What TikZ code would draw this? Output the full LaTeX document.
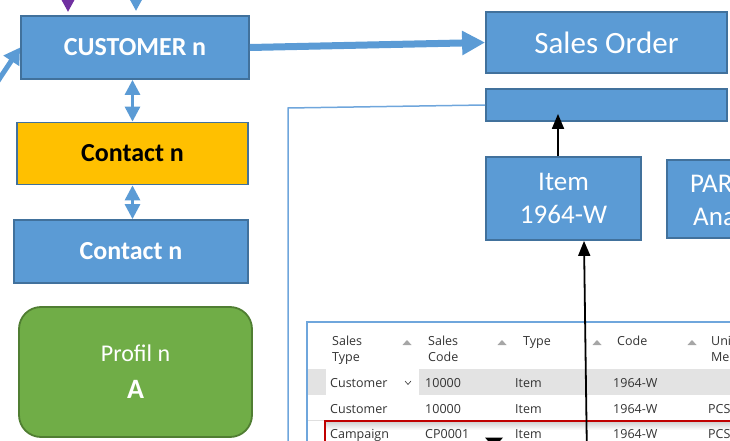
\documentclass[tikz,border=0pt]{standalone}
\usepackage{fontspec}
\setmainfont{Carlito}
\newfontfamily\tabfont{Open Sans}
\usetikzlibrary{arrows.meta}
\definecolor{boxblue}{HTML}{5B9BD5}
\definecolor{boxedge}{HTML}{41719C}
\definecolor{orangefill}{HTML}{FFC000}
\definecolor{greenfill}{HTML}{70AD47}
\definecolor{greenedge}{HTML}{507E32}
\definecolor{purplearr}{HTML}{7030A0}
\definecolor{redsel}{HTML}{C00000}
\definecolor{tabtext}{HTML}{333333}
\definecolor{rowgray}{HTML}{E3E3E3}
\definecolor{sortgray}{HTML}{A6A6A6}
\definecolor{framelight}{HTML}{6FA6DC}
\begin{document}
\begin{tikzpicture}[x=1pt,y=-1pt,
  bluebox/.style={draw=boxedge, fill=boxblue, line width=1.8pt, inner sep=0pt, text=white},
  bigbold/.style={font=\fontsize{26}{31}\selectfont\bfseries},
  bigreg/.style={font=\fontsize{31}{37}\selectfont},
  midreg/.style={font=\fontsize{27}{33}\selectfont},
  dbl/.style={boxblue, line width=3pt, {Triangle[width=15pt,length=15pt]}-{Triangle[width=15pt,length=15pt]}},
  blackarr/.style={black, line width=1.8pt, -{Triangle[width=12pt,length=15pt]}},
  tabtxt/.style={anchor=base west, inner sep=0pt, text=tabtext, font=\tabfont\fontsize{12.5}{15}\selectfont},
  sorttri/.style={fill=sortgray, draw=none}
]
\useasboundingbox (0,0) rectangle (730,441);
\clip (0,0) rectangle (730,441);

% boxes
\node[bluebox, bigbold, minimum width=228pt, minimum height=63pt] (cust) at (135,47.5) {CUSTOMER n};
\node[bluebox, bigreg, minimum width=241pt, minimum height=61pt] (so) at (606.5,42.5) {Sales Order};
\node[bluebox, minimum width=241pt, minimum height=32pt] (sob) at (606.5,105) {};
\node[bluebox, midreg, minimum width=155pt, minimum height=83pt, align=center] (item) at (563.5,198.5) {Item\\1964-W};
\node[bluebox, minimum width=155pt, minimum height=78pt] (par) at (744.5,199) {};
\node[anchor=base west, inner sep=0pt, text=white, midreg] (parA) at (690,192) {PAR};
\node[anchor=base west, inner sep=0pt, text=white, midreg] (parB) at (693,225) {Ana};
\node[draw=boxedge, fill=orangefill, line width=1.8pt, inner sep=0pt, text=black, bigbold, minimum width=231pt, minimum height=62pt] (con1) at (132.5,153.5) {Contact n};
\node[bluebox, bigbold, minimum width=234pt, minimum height=63pt] (con2) at (131,251.5) {Contact n};
\node[draw=greenedge, fill=greenfill, line width=1.8pt, rounded corners=22pt, inner sep=0pt, text=white, minimum width=233pt, minimum height=130pt, align=center, font=\fontsize{24}{37}\selectfont] (prof) at (135.5,372)
  {Profil n\\{\fontsize{28}{37}\selectfont\bfseries A}};

% incoming arrows from outside
\coordinate (purpTop) at (68,-20);
\coordinate (purpEnd) at (68,12);
\draw[purplearr, line width=3pt, -{Triangle[width=12pt,length=12pt]}] (purpTop) -- (purpEnd);
\coordinate (blueTop) at (136,-20);
\coordinate (blueEnd) at (136,11);
\draw[boxblue, line width=3pt, -{Triangle[width=12pt,length=12pt]}] (blueTop) -- (blueEnd);
\coordinate (leftStart) at (-12,96);
\draw[boxblue, line width=5pt, -{Triangle[width=18pt,length=16pt]}] (leftStart) -- (cust.west);

% connectors
\draw[boxblue, line width=7pt, -{Triangle[width=23pt,length=23pt]}] (cust.east) -- (so.west);
\draw[dbl] (con1.north) -- (con1.north |- cust.south);
\draw[dbl] (con2.north -| con1.south) -- (con1.south);

% thin frame line
\coordinate (fr1) at (288,108);
\coordinate (fr2) at (288,450);
\draw[framelight, line width=1.5pt] (sob.west) -- (fr1) -- (fr2);

% table
\fill[rowgray] (308,369) rectangle (730,395);
\fill[white] (326,369) rectangle (419,395);
\draw[framelight, line width=1.5pt] (307,460) -- (307,322) -- (740,322);
\draw[gray!25, line width=0.6pt] (308,420) -- (730,420);
\shade[top color=gray!35, bottom color=white] (326,422) rectangle (730,430);
\draw[redsel, line width=1.5pt] (325,460) -- (325,421) -- (740,421);

% header
\node[tabtxt] (h1a) at (332,345) {Sales};
\node[tabtxt] (h1b) at (332,361) {Type};
\node[tabtxt] (h2a) at (428,345) {Sales};
\node[tabtxt] (h2b) at (428,361) {Code};
\node[tabtxt] (h3) at (523,345) {Type};
\node[tabtxt] (h4) at (617,345) {Code};
\node[tabtxt] (h5a) at (711,345) {Unit};
\node[tabtxt] (h5b) at (711,361) {Me};
\fill[sorttri] (402.5,345) -- (411.5,345) -- (407,340) -- cycle;
\fill[sorttri] (497.5,345) -- (506.5,345) -- (502,340) -- cycle;
\fill[sorttri] (592.5,345) -- (601.5,345) -- (597,340) -- cycle;
\fill[sorttri] (687.5,345) -- (696.5,345) -- (692,340) -- cycle;

% rows
\node[tabtxt] (r1a) at (330,387) {Customer};
\draw[tabtext, line width=0.6pt] (405,381) -- (408,384.5) -- (411,381);
\node[tabtxt] (r1b) at (425,387) {10000};
\node[tabtxt] (r1c) at (515,387) {Item};
\node[tabtxt] (r1d) at (613,387) {1964-W};
\node[tabtxt] (r2a) at (330,413) {Customer};
\node[tabtxt] (r2b) at (425,413) {10000};
\node[tabtxt] (r2c) at (515,413) {Item};
\node[tabtxt] (r2d) at (613,413) {1964-W};
\node[tabtxt] (r2e) at (708,413) {PCS};
\node[tabtxt] (r3a) at (330,438) {Campaign};
\node[tabtxt] (r3b) at (425,438) {CP0001};
\node[tabtxt] (r3c) at (515,438) {Item};
\node[tabtxt] (r3d) at (613,438) {1964-W};
\node[tabtxt] (r3e) at (708,438) {PCS};
\fill[black] (485,437.5) -- (503,437.5) -- (494,448) -- cycle;

% black arrows
\coordinate (itop) at ([xshift=-5.5pt]item.north);
\coordinate (stip0) at (itop |- sob.south);
\draw[blackarr] (itop) -- ([yshift=8pt]stip0);
\coordinate (longStart) at (587,460);
\draw[blackarr] (longStart) -- ([xshift=20.5pt]item.south);
\end{tikzpicture}
\end{document}
